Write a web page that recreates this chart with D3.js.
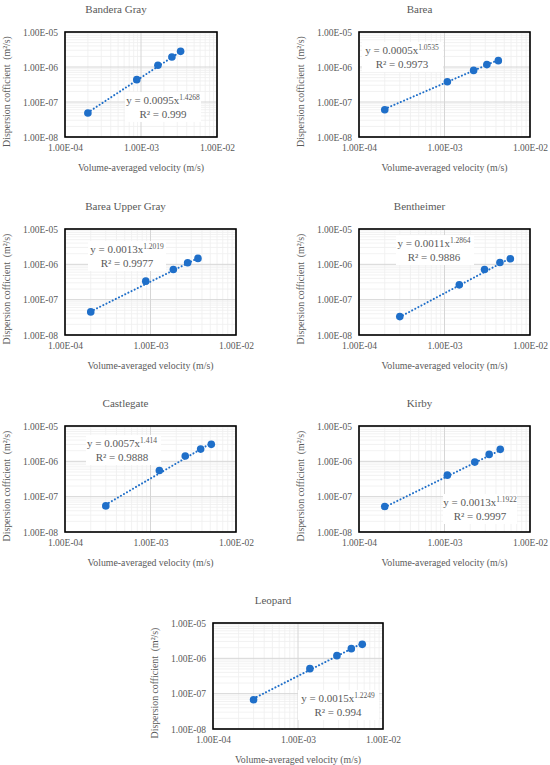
<!DOCTYPE html>
<html>
<head>
<meta charset="utf-8">
<script src="https://cdn.jsdelivr.net/npm/d3@7"></script>
<style>
  html, body { margin: 0; padding: 0; background: #fff; }
  text { font-family: "Liberation Serif", "DejaVu Serif", serif; fill: #595959; }
</style>
</head>
<body>
<svg width="550" height="765"></svg>
<script>
// ---- data ----
const rocks = ["Bandera Gray", "Barea", "Barea Upper Gray", "Bentheimer", "Castlegate", "Kirby", "Leopard"];

const velBanderaGray = [2.0e-4, 8.8e-4, 1.67e-3, 2.55e-3, 3.32e-3];
const dispBanderaGray = [4.85e-8, 4.35e-7, 1.12e-6, 1.93e-6, 2.8e-6];

const velBarea = [2.0e-4, 1.08e-3, 2.19e-3, 3.13e-3, 4.26e-3];
const dispBarea = [6.0e-8, 3.8e-7, 8.0e-7, 1.17e-6, 1.52e-6];

const velBareaUpperGray = [2.0e-4, 8.8e-4, 1.85e-3, 2.72e-3, 3.59e-3];
const dispBareaUpperGray = [4.5e-8, 3.34e-7, 7.16e-7, 1.11e-6, 1.47e-6];

const velBentheimer = [3.0e-4, 1.49e-3, 2.94e-3, 4.45e-3, 5.89e-3];
const dispBentheimer = [3.32e-8, 2.63e-7, 7.16e-7, 1.13e-6, 1.44e-6];

const velCastlegate = [3.0e-4, 1.27e-3, 2.55e-3, 3.86e-3, 5.14e-3];
const dispCastlegate = [5.48e-8, 5.52e-7, 1.41e-6, 2.22e-6, 3.02e-6];

const velKirby = [2.0e-4, 1.08e-3, 2.26e-3, 3.33e-3, 4.49e-3];
const dispKirby = [5.25e-8, 4.07e-7, 9.5e-7, 1.57e-6, 2.18e-6];

const velLeopard = [3.0e-4, 1.38e-3, 2.87e-3, 4.24e-3, 5.70e-3];
const dispLeopard = [6.76e-8, 5.1e-7, 1.19e-6, 1.88e-6, 2.49e-6];

// power trendline y = a x^b, and R²
const coefA = ["0.0095", "0.0005", "0.0013", "0.0011", "0.0057", "0.0013", "0.0015"];
const coefB = ["1.4268", "1.0535", "1.2019", "1.2864", "1.414", "1.1922", "1.2249"];
const rSquared = ["0.999", "0.9973", "0.9977", "0.9886", "0.9888", "0.9997", "0.994"];

const xTicks = [1e-4, 1e-3, 1e-2];
const yTicks = [1e-8, 1e-7, 1e-6, 1e-5];

const velocities = [velBanderaGray, velBarea, velBareaUpperGray, velBentheimer, velCastlegate, velKirby, velLeopard];
const dispersions = [dispBanderaGray, dispBarea, dispBareaUpperGray, dispBentheimer, dispCastlegate, dispKirby, dispLeopard];

// ---- layout: plot boxes and equation label spots ----
const boxes = [
  { x: 65, y: 32, w: 152, h: 105 },
  { x: 359, y: 32, w: 171, h: 105 },
  { x: 65, y: 229, w: 171, h: 106 },
  { x: 359, y: 229, w: 171, h: 106 },
  { x: 65, y: 426, w: 171, h: 106 },
  { x: 359, y: 426, w: 171, h: 106 },
  { x: 213, y: 623, w: 170, h: 106 }
];
// equation label: centre x, first line centre y, white box
const eqSpots = [
  { cx: 163, cy: 100, bx: 125, by: 92, bw: 76, bh: 30 },
  { cx: 402, cy: 50, bx: 362, by: 42, bw: 81, bh: 30 },
  { cx: 127, cy: 249, bx: 88, by: 241, bw: 78, bh: 30 },
  { cx: 434, cy: 243, bx: 396, by: 235, bw: 78, bh: 30 },
  { cx: 122, cy: 443, bx: 86, by: 435, bw: 75, bh: 30 },
  { cx: 480, cy: 502, bx: 443, by: 494, bw: 74, bh: 30 },
  { cx: 338, cy: 698, bx: 298, by: 690, bw: 81, bh: 30 }
];

const blue = "#1f6fc9";
const svg = d3.select("svg");

const fmtExp = (d) => "1.00E-" + String(Math.round(-Math.log10(d))).padStart(2, "0");

// minor grid values for decades
const minorX = [];
[1e-4, 1e-3].forEach((dec) => { for (let k = 2; k <= 9; k++) minorX.push(dec * k); });
const minorY = [];
[1e-8, 1e-7, 1e-6].forEach((dec) => { for (let k = 2; k <= 9; k++) minorY.push(dec * k); });

function drawPanel(i) {
  const b = boxes[i];
  const x = d3.scaleLog().domain([1e-4, 1e-2]).range([b.x, b.x + b.w]);
  const y = d3.scaleLog().domain([1e-8, 1e-5]).range([b.y + b.h, b.y]);
  const g = svg.append("g").attr("class", "panel");

  // grid
  g.selectAll(".minor-x").data(minorX).enter().append("line")
    .attr("x1", (d) => x(d)).attr("x2", (d) => x(d))
    .attr("y1", b.y).attr("y2", b.y + b.h)
    .attr("stroke", "#efefef").attr("stroke-width", 0.8);
  g.selectAll(".minor-y").data(minorY).enter().append("line")
    .attr("y1", (d) => y(d)).attr("y2", (d) => y(d))
    .attr("x1", b.x).attr("x2", b.x + b.w)
    .attr("stroke", "#efefef").attr("stroke-width", 0.8);
  g.selectAll(".major-x").data(xTicks).enter().append("line")
    .attr("x1", (d) => x(d)).attr("x2", (d) => x(d))
    .attr("y1", b.y).attr("y2", b.y + b.h)
    .attr("stroke", "#d6d6d6").attr("stroke-width", 1);
  g.selectAll(".major-y").data(yTicks).enter().append("line")
    .attr("y1", (d) => y(d)).attr("y2", (d) => y(d))
    .attr("x1", b.x).attr("x2", b.x + b.w)
    .attr("stroke", "#d6d6d6").attr("stroke-width", 1);

  // axes (labels only)
  const ax = g.append("g").attr("transform", `translate(0,${b.y + b.h + 4})`)
    .call(d3.axisBottom(x).tickValues(xTicks).tickFormat(fmtExp).tickSize(0));
  const ay = g.append("g").attr("transform", `translate(${b.x - 4},0)`)
    .call(d3.axisLeft(y).tickValues(yTicks).tickFormat(fmtExp).tickSize(0));
  [ax, ay].forEach((a) => {
    a.select(".domain").remove();
    a.selectAll("text").attr("font-family", "Liberation Serif").attr("font-size", 9.5).attr("fill", "#595959");
  });

  // equation label
  const e = eqSpots[i];
  g.append("rect").attr("x", e.bx).attr("y", e.by).attr("width", e.bw).attr("height", e.bh).attr("fill", "#fff");
  const t1 = g.append("text").attr("x", e.cx).attr("y", e.cy + 4).attr("text-anchor", "middle").attr("font-size", 11);
  t1.append("tspan").text(`y = ${coefA[i]}x`);
  t1.append("tspan").attr("dy", -4.5).attr("font-size", 7.5).text(coefB[i]);
  g.append("text").attr("x", e.cx).attr("y", e.cy + 17.5).attr("text-anchor", "middle").attr("font-size", 11)
    .text(`R² = ${rSquared[i]}`);

  // trendline over the data range
  const a = +coefA[i], p = +coefB[i];
  const xs = d3.extent(velocities[i]);
  g.append("path")
    .attr("d", d3.line().x((d) => x(d)).y((d) => y(a * Math.pow(d, p)))(xs))
    .attr("fill", "none").attr("stroke", blue).attr("stroke-width", 2)
    .attr("stroke-linecap", "round").attr("stroke-dasharray", "0.1 3.4");

  // points
  g.selectAll(".pt").data(d3.zip(velocities[i], dispersions[i])).enter().append("circle")
    .attr("cx", (d) => x(d[0])).attr("cy", (d) => y(d[1])).attr("r", 3.8).attr("fill", blue);

  // frame
  g.append("rect").attr("x", b.x).attr("y", b.y).attr("width", b.w).attr("height", b.h)
    .attr("fill", "none").attr("stroke", "#000").attr("stroke-width", 1.6);

  // titles
  g.append("text").attr("x", b.x + b.w / 2 - 25).attr("y", b.y - 19).attr("text-anchor", "middle")
    .attr("font-size", 11).text(rocks[i]);
  g.append("text").attr("x", b.x + b.w / 2).attr("y", b.y + b.h + 33.5).attr("text-anchor", "middle")
    .attr("font-size", 9.8).text("Volume-averaged velocity (m/s)");
  g.append("text").attr("transform", `translate(${b.x - 55},${b.y + b.h / 2 + 7}) rotate(-90)`)
    .attr("text-anchor", "middle").attr("font-size", 9.8).attr("xml:space", "preserve")
    .text("Dispersion cofficient  (m²/s)");
}

rocks.forEach((r, i) => drawPanel(i));
</script>
</body>
</html>
